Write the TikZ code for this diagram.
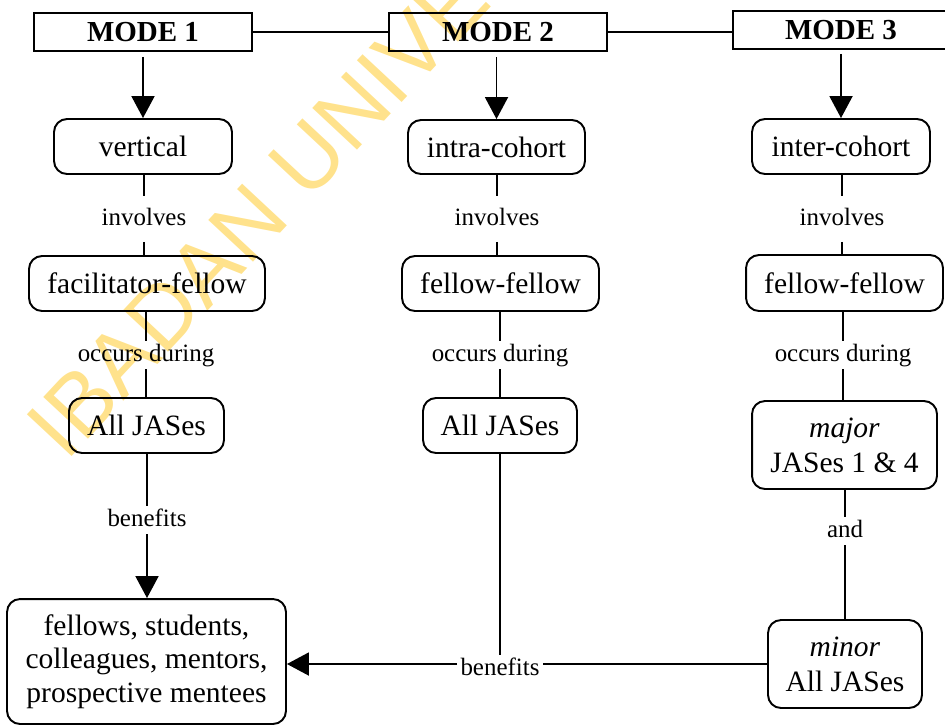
\documentclass[tikz,border=0pt]{standalone}
\usepackage{fontspec}
\setmainfont{Liberation Serif}
\newfontfamily\wmfont{Liberation Sans}
\usetikzlibrary{arrows.meta}
\definecolor{wmyellow}{RGB}{255,226,140}
\begin{document}
\begin{tikzpicture}[x=0.02cm,y=-0.02cm,
  every node/.style={inner sep=0pt},
  conn/.style={line width=1.1pt},
  arr/.style={conn,-{Triangle[width=0.46cm,length=0.44cm]}},
  modebox/.style={draw,line width=1.1pt,minimum height=0.76cm,
    font=\fontsize{16.5}{19}\selectfont\bfseries},
  rbox/.style={draw,line width=1.1pt,rounded corners=0.26cm,align=center,
    font=\fontsize{16.8}{19}\selectfont},
  lab/.style={font=\fontsize{14.2}{17}\selectfont,text height=0.35cm,
    text depth=0.1cm,inner xsep=0.06cm,inner ysep=0.055cm},
  labwide/.style={lab,inner ysep=0.225cm}]
\useasboundingbox (0,0) rectangle (945,725);
% watermark
\begin{scope}
\clip (0,0) rectangle (945,725);
\node[rotate=47,anchor=base west,text=wmyellow,
  font=\wmfont\fontsize{50.6}{60}\selectfont] (wm) at (66,463) {IBADAN UNIVERSITY};
\end{scope}
% mode boxes
\node[modebox,minimum width=4.36cm] (m1) at (143,32) {MODE 1};
\node[modebox,minimum width=4.36cm] (m2) at (498,32) {MODE 2};
\node[modebox,minimum width=4.32cm] (m3) at (841,30) {MODE 3};
% column 1
\node[rbox,minimum width=3.56cm,minimum height=1.10cm] (v1) at (143,146.5) {vertical};
\node[labwide] (i1) at (144,219) {involves};
\node[rbox,minimum width=4.72cm,minimum height=1.10cm] (f1) at (147,283.5) {facilitator-fellow};
\node[lab] (o1) at (146,355) {occurs during};
\node[rbox,minimum width=3.10cm,minimum height=1.10cm] (a1) at (146.5,425.5) {All JASes};
\node[lab] (b1) at (147,520) {benefits};
\node[rbox,minimum width=5.58cm,minimum height=2.50cm,
  font=\fontsize{16.8}{19.1}\selectfont] (bot) at (146.5,661.5)
  {fellows, students,\\colleagues, mentors,\\prospective mentees};
% column 2
\node[rbox,minimum width=3.54cm,minimum height=1.08cm] (v2) at (496.5,147) {intra-cohort};
\node[labwide] (i2) at (497,219) {involves};
\node[rbox,minimum width=3.94cm,minimum height=1.10cm] (f2) at (500.5,283.5) {fellow-fellow};
\node[lab] (o2) at (500,355) {occurs during};
\node[rbox,minimum width=3.08cm,minimum height=1.10cm] (a2) at (500,425.5) {All JASes};
\node[lab] (b2) at (500,669) {benefits};
% column 3
\node[rbox,minimum width=3.56cm,minimum height=1.10cm] (v3) at (841,146.5) {inter-cohort};
\node[labwide] (i3) at (842,219) {involves};
\node[rbox,minimum width=3.94cm,minimum height=1.12cm] (f3) at (844.5,283) {fellow-fellow};
\node[lab] (o3) at (843,355) {occurs during};
\node[rbox,minimum width=3.70cm,minimum height=1.76cm,
  font=\fontsize{16.8}{19.9}\selectfont] (maj) at (844.5,445) {\textit{major}\\JASes 1 \& 4};
\node[lab] (and) at (845,531) {and};
\node[rbox,minimum width=3.08cm,minimum height=1.76cm,
  font=\fontsize{16.8}{19.9}\selectfont] (min) at (845,664) {\textit{minor}\\All JASes};
% top connectors
\draw[conn] (m1.east) -- (m2.west);
\draw[conn] (m2.east) -- (m2.east -| m3.west);
\draw[arr,shorten <=0.1cm] (m1.south -| v1.north) -- (v1.north);
\draw[arr,shorten <=0.1cm] (m2.south -| v2.north) -- (v2.north);
\draw[arr,shorten <=0.08cm] (m3.south -| v3.north) -- (v3.north);
% column 1 connectors
\draw[conn] (v1.south -| i1.north) -- (i1.north);
\draw[conn] (i1.south) -- (i1.south |- f1.north);
\draw[conn] (f1.south -| o1.north) -- (o1.north);
\draw[conn] (o1.south) -- (o1.south |- a1.north);
\draw[conn] (a1.south -| b1.north) -- (b1.north);
\draw[arr] (b1.south) -- (b1.south |- bot.north);
% column 2 connectors
\draw[conn] (v2.south -| i2.north) -- (i2.north);
\draw[conn] (i2.south) -- (i2.south |- f2.north);
\draw[conn] (f2.south -| o2.north) -- (o2.north);
\draw[conn] (o2.south) -- (o2.south |- a2.north);
\draw[conn] (a2.south -| b2.north) -- (b2.north);
% column 3 connectors
\draw[conn] (v3.south -| i3.north) -- (i3.north);
\draw[conn] (i3.south) -- (i3.south |- f3.north);
\draw[conn] (f3.south -| o3.north) -- (o3.north);
\draw[conn] (o3.south) -- (o3.south |- maj.north);
\draw[conn] (maj.south -| and.north) -- (and.north);
\draw[conn] (and.south) -- (and.south |- min.north);
% bottom benefits
\draw[conn] (min.west) -- (min.west -| b2.east);
\draw[arr] (min.west -| b2.west) -- (min.west -| bot.east);
\end{tikzpicture}
\end{document}
